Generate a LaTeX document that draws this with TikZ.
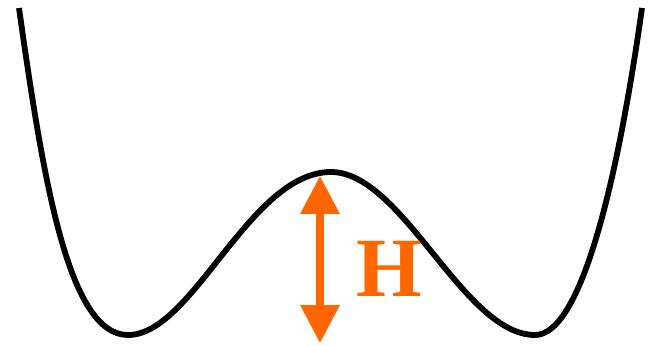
\documentclass[tikz,border=0pt]{standalone}
\usepackage{fontspec}
\usepackage{tikz}
\usetikzlibrary{arrows.meta,positioning,calc}
\newfontfamily\labelfont{Liberation Serif}
\definecolor{barrierorange}{RGB}{255,102,0}

\tikzset{
  wellcurve/.style={line width=3.3pt, black},
  barrierarrow/.style={line width=4pt, barrierorange,
    {Triangle[width=0.76cm,length=0.76cm]}-{Triangle[width=0.76cm,length=0.76cm]}},
  barrierlabel/.style={text=barrierorange, font=\labelfont\bfseries\fontsize{48}{48}\selectfont,
    inner sep=0pt}
}

\begin{document}
\begin{tikzpicture}[x=0.02cm, y=-0.02cm]
\useasboundingbox (0,0) rectangle (648,345);

% ================= DOUBLE WELL =================
\coordinate (lefttop) at (19,8);
\coordinate (leftmin) at (128,335);
\coordinate (top) at (331,172);
\coordinate (rightmin) at (535,335);
\coordinate (righttop) at (642,8);

\draw[wellcurve] (lefttop)
  .. controls (43,178) and (68,335) .. (leftmin)
  .. controls (193,335) and (249.5,172) .. (top)
  .. controls (402.6,172) and (463.4,335) .. (rightmin)
  .. controls (581.6,335) and (618,178) .. (righttop);

% ================= BARRIER HEIGHT =================
\coordinate (peak) at (320,176);
\coordinate (floor) at (320,343);
\draw[barrierarrow] (floor) -- (peak);

\node[barrierlabel] (height) at (389,269) {H};

\end{tikzpicture}
\end{document}
